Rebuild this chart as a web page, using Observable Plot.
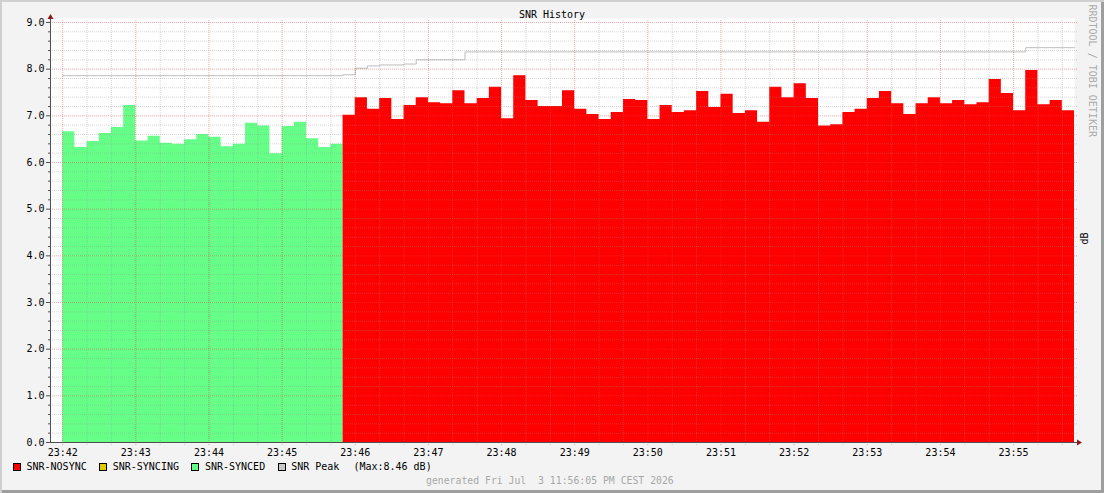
<!DOCTYPE html>
<html>
<head>
<meta charset="utf-8">
<script src="https://cdn.jsdelivr.net/npm/d3@7"></script>
<script src="https://cdn.jsdelivr.net/npm/@observablehq/plot@0.6"></script>
<style>
  html, body { margin: 0; padding: 0; background: #f3f3f3; }
  #wrap {
    position: relative; width: 1104px; height: 493px; overflow: hidden;
    background: #f3f3f3;
    font-family: "DejaVu Sans Mono", monospace;
    box-shadow: inset 2px 2px 0 #cfcfcf, inset -3px -3px 0 #9e9e9e;
  }
  #chart { position: absolute; left: 0; top: 0; }
  #title {
    position: absolute; left: 0; top: 10px; width: 1104px; text-align: center;
    font-size: 10px; line-height: 10px; color: #000;
  }
  #legend {
    position: absolute; left: 13px; top: 462px; display: flex; align-items: flex-start;
    font-size: 10px; line-height: 10px; color: #000; white-space: pre;
  }
  #legend .item { display: flex; align-items: flex-start; margin-right: 12.5px; }
  #legend .sq {
    display: inline-block; width: 8px; height: 8px; box-sizing: border-box;
    border: 1px solid #000; margin-top: 1px; margin-right: 5.5px;
  }
  #legend .max { margin-left: 2px; }
  #gen {
    position: absolute; left: 426px; top: 476px; font-size: 9.8px; line-height: 10px;
    color: #a8a8a8; white-space: pre;
  }
</style>
</head>
<body>
<div id="wrap">
  <div id="chart"></div>
  <div id="title"></div>
  <div id="legend"></div>
  <div id="gen"></div>
</div>
<script>
// ---------------- data ----------------
const chartTitle = "SNR History";
const unitLabel = "dB";
const watermark = "RRDTOOL / TOBI OETIKER";
const generatedText = "generated Fri Jul  3 11:56:05 PM CEST 2026";

const axisStart = "23:41:50";
const startTime = "23:42:00";
const endTime = "23:55:50";
const stepSeconds = 10;

// SNR while SYNCED (green), one value per 10 s from 23:42:00
const syncedSnr = [6.66, 6.32, 6.45, 6.62, 6.75, 7.22, 6.46, 6.56, 6.41, 6.39, 6.49, 6.60,
                   6.54, 6.34, 6.39, 6.84, 6.78, 6.19, 6.77, 6.86, 6.51, 6.32, 6.39];
// SNR while NOSYNC (red), one value per 10 s, following the synced series
const nosyncSnr = [7.01, 7.39, 7.14, 7.37, 6.92, 7.22, 7.39, 7.28, 7.26, 7.54, 7.26, 7.37,
                   7.61, 6.94, 7.86, 7.33, 7.20, 7.20, 7.54, 7.14, 7.03, 6.92, 7.07, 7.35,
                   7.33, 6.92, 7.22, 7.07, 7.11, 7.52, 7.18, 7.46, 7.05, 7.11, 6.86, 7.61,
                   7.39, 7.69, 7.37, 6.78, 6.81, 7.07, 7.14, 7.37, 7.52, 7.26, 7.03, 7.26,
                   7.39, 7.26, 7.33, 7.24, 7.28, 7.78, 7.48, 7.11, 7.97, 7.24, 7.33, 7.11];
// SNR Peak (step line): times where the peak changes, and its values
const peakTimes  = ["23:42:00", "23:45:50", "23:46:00", "23:46:10", "23:46:20", "23:46:40", "23:46:50", "23:47:30", "23:55:10"];
const peakValues = [7.86, 7.88, 8.02, 8.07, 8.09, 8.11, 8.20, 8.37, 8.46];
const peakMax = "8.46";

const xTicks = ["23:42", "23:43", "23:44", "23:45", "23:46", "23:47", "23:48",
                "23:49", "23:50", "23:51", "23:52", "23:53", "23:54", "23:55"];
const yTicks = [0, 1, 2, 3, 4, 5, 6, 7, 8, 9];

const legendLabels = ["SNR-NOSYNC", "SNR-SYNCING", "SNR-SYNCED", "SNR Peak"];
const legendColors = ["#ff0000", "#dccc00", "#66ff88", "#c8c8c8"];

// ---------------- build ----------------
const T = s => { const [h, m, sec] = s.split(":").map(Number); return new Date(Date.UTC(2026, 6, 3, h, m, sec || 0)); };
const stepMs = stepSeconds * 1000;
const t0 = +T(startTime);

const synced = syncedSnr.map((v, i) => ({t: new Date(t0 + i * stepMs), v}));
synced.push({t: new Date(t0 + syncedSnr.length * stepMs), v: syncedSnr[syncedSnr.length - 1]});
const n0 = t0 + syncedSnr.length * stepMs;
const nosync = nosyncSnr.map((v, i) => ({t: new Date(n0 + i * stepMs), v}));
nosync.push({t: new Date(n0 + nosyncSnr.length * stepMs), v: nosyncSnr[nosyncSnr.length - 1]});
const peak = peakTimes.map((s, i) => ({t: T(s), v: peakValues[i]}));
peak.push({t: T(endTime), v: peakValues[peakValues.length - 1]});

const xDomain = [T(axisStart), T(endTime)];
const majorX = xTicks.map(s => T(s + ":00"));
const minorX = d3.utcSecond.every(20).range(xDomain[0], xDomain[1]).filter(d => d.getUTCSeconds() !== 0);
const minorY = d3.range(1, 45).map(i => i / 5).filter(v => Math.abs(v - Math.round(v)) > 1e-9);

const minorGrid = {stroke: "#8c8c8c", strokeOpacity: 0.35, strokeDasharray: "1,1"};
const majorGrid = {stroke: "#e04040", strokeOpacity: 0.45, strokeDasharray: "1,1"};
const axisColor = "#505050";
const arrowColor = "#8b1a1a";

const arrows = (index, scales) => {
  const g = d3.create("svg:g").attr("fill", arrowColor);
  const x0 = Math.round(scales.x(xDomain[0]));
  const yTop = scales.y(yTicks[yTicks.length - 1]) - 3;
  const y0 = Math.round(scales.y(0)) + 0.5;
  const xEnd = scales.x(xDomain[1]) + 3;
  const xa = x0 + 0.5;
  g.append("path").attr("d", `M${xa - 3},${yTop} L${xa + 3},${yTop} L${xa},${yTop - 5} Z`);
  g.append("path").attr("d", `M${xEnd},${y0 - 3} L${xEnd},${y0 + 3} L${xEnd + 5},${y0} Z`);
  return g.node();
};

const chart = Plot.plot({
  width: 1104,
  height: 460,
  marginTop: 22,
  marginBottom: 18,
  marginLeft: 50,
  marginRight: 30,
  style: {fontFamily: "DejaVu Sans Mono", fontSize: "10px", background: "transparent", overflow: "visible", color: "#000"},
  x: {type: "utc", domain: xDomain, label: null},
  y: {domain: [0, 9], label: null},
  marks: [
    Plot.frame({fill: "#ffffff", stroke: null, insetTop: -4}),
    Plot.areaY(synced, {x: "t", y: "v", curve: "step-after", fill: legendColors[2]}),
    Plot.areaY(nosync, {x: "t", y: "v", curve: "step-after", fill: legendColors[0]}),
    Plot.lineY(peak, {x: "t", y: "v", curve: "step-after", stroke: "#bdbdbd", strokeWidth: 1}),
    Plot.ruleY(minorY, {...minorGrid, insetRight: -3}),
    Plot.ruleX(minorX, {...minorGrid, insetBottom: -3, insetTop: -2}),
    Plot.ruleY(yTicks.filter(v => v > 0), {...majorGrid, insetRight: -3}),
    Plot.ruleX(majorX, {...majorGrid, insetBottom: -3, insetTop: -2}),
    Plot.axisY({ticks: yTicks, tickFormat: d => d.toFixed(1), tickSize: 4, tickPadding: 2, stroke: axisColor, fill: "#000", fontSize: 10}),
    Plot.axisY({ticks: minorY, tickFormat: () => "", tickSize: 2, tickPadding: 0, stroke: axisColor}),
    Plot.axisX({ticks: majorX, tickFormat: d3.utcFormat("%H:%M"), tickSize: 0, tickPadding: 6, fill: "#000", fontSize: 10}),
    Plot.ruleX([xDomain[0]], {stroke: axisColor, insetTop: -3}),
    Plot.ruleY([0], {stroke: axisColor, insetRight: -3}),
    arrows,
    Plot.text([unitLabel], {text: d => d, frameAnchor: "right", dx: 10, rotate: -90, fontSize: 10, fill: "#000"}),
    Plot.text([watermark], {text: d => d, frameAnchor: "top-right", dx: 18, dy: -18, rotate: 90,
                            textAnchor: "start", lineAnchor: "middle", fontSize: 10, fill: "#ababab"})
  ]
});
document.getElementById("chart").appendChild(chart);

document.getElementById("title").textContent = chartTitle;
document.getElementById("gen").textContent = generatedText;

const legend = document.getElementById("legend");
legendLabels.forEach((label, i) => {
  const item = document.createElement("div");
  item.className = "item";
  const sq = document.createElement("span");
  sq.className = "sq";
  sq.style.background = legendColors[i];
  const tx = document.createElement("span");
  tx.textContent = label;
  item.appendChild(sq);
  item.appendChild(tx);
  if (i === legendLabels.length - 1) {
    const mx = document.createElement("span");
    mx.className = "max";
    mx.textContent = `  (Max:${peakMax} ${unitLabel})`;
    item.appendChild(mx);
  }
  legend.appendChild(item);
});
</script>
</body>
</html>
